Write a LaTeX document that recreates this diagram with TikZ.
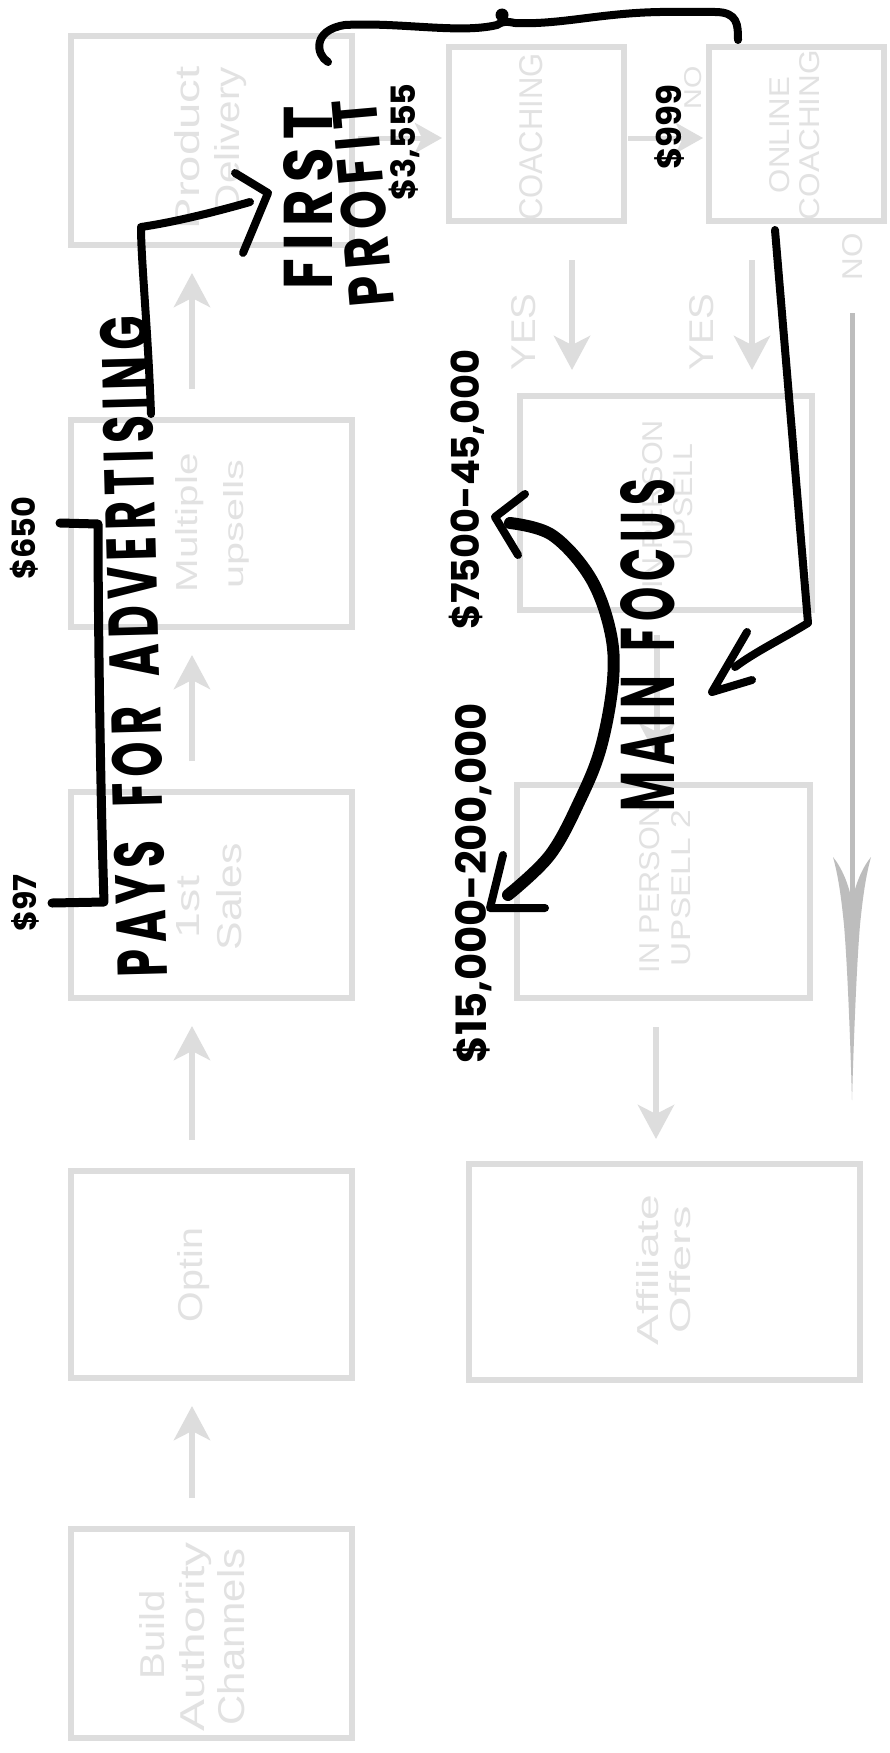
\documentclass[tikz,border=0pt]{standalone}
\usepackage{fontspec}
\setmainfont{Liberation Sans}
\newfontfamily\numf{Poppins}
\newfontfamily\handf{Poppins}[LetterSpace=14]
\usetikzlibrary{arrows.meta}
\definecolor{boxgray}{RGB}{221,221,221}
\definecolor{txtgray}{RGB}{226,226,226}
\definecolor{longgray}{RGB}{189,189,189}
\newcommand{\fitw}[2]{\resizebox{#1pt}{!}{#2}}
\newcommand{\fitwh}[3]{\resizebox{#1pt}{#2pt}{#3}}
\begin{document}
\begin{tikzpicture}[x=1pt,y=-1pt,
 box/.style={draw=boxgray, line width=6pt, inner sep=0pt},
 gtext/.style={text=txtgray, rotate=90, inner sep=0pt},
 btext/.style={text=black, rotate=90, inner sep=0pt, font=\numf\bfseries},
 htext/.style={text=black, rotate=90, inner sep=0pt, font=\handf\bfseries},
 garrow/.style={draw=boxgray, line width=6pt, -{Stealth[length=34pt,width=36pt,inset=9pt]}},
 harrow/.style={draw=boxgray, line width=5pt, -{Stealth[length=27pt,width=30pt,inset=7pt]}},
 ink/.style={draw=black, line width=8pt, line cap=round, line join=round},
]
\fill[white] (0,0) rectangle (889,1753);
\useasboundingbox (0,0) rectangle (889,1753);

% ---------- boxes ----------
\node[box, minimum width=281pt, minimum height=209pt] (prod)   at (211.5,140.5) {};
\node[box, minimum width=281pt, minimum height=207pt] (multi)  at (211.5,523.5) {};
\node[box, minimum width=281pt, minimum height=206pt] (sales)  at (211.5,895) {};
\node[box, minimum width=281pt, minimum height=207pt] (optin)  at (211.5,1274.5) {};
\node[box, minimum width=281pt, minimum height=209pt] (build)  at (211.5,1633.5) {};
\node[box, minimum width=175pt, minimum height=174pt] (coach)  at (536.5,134) {};
\node[box, minimum width=175pt, minimum height=174pt] (online) at (796.5,134) {};
\node[box, minimum width=292pt, minimum height=214pt] (ipa)    at (666,503) {};
\node[box, minimum width=293pt, minimum height=213pt] (ipb)    at (663.5,891.5) {};
\node[box, minimum width=391pt, minimum height=216pt] (aff)    at (664.5,1272) {};

% ---------- box texts ----------
\node[gtext] (tprod1) at (187,148) {\fitwh{163}{25}{Product}};
\node[gtext] (tprod2) at (231,140) {\fitwh{146}{25}{Delivery}};
\node[gtext] (tmul1) at (190,523) {\fitwh{139}{22}{Multiple}};
\node[gtext] (tmul2) at (236,524) {\fitwh{129}{20}{upsells}};
\node[gtext] (tsal1) at (188,907) {\fitwh{62}{23}{1st}};
\node[gtext] (tsal2) at (229,897) {\fitwh{107}{25}{Sales}};
\node[gtext] (topt) at (194,1275) {\fitwh{94}{25}{Optin}};
\node[gtext] (tbui1) at (152,1635) {\fitwh{89}{25}{Build}};
\node[gtext] (tbui2) at (196,1637) {\fitwh{189}{25}{Authority}};
\node[gtext] (tbui3) at (231,1637) {\fitwh{177}{27}{Channels}};
\node[gtext] (tcoa) at (531,137) {\fitwh{167}{23}{COACHING}};
\node[gtext] (tonl1) at (780,135) {\fitwh{116}{20}{ONLINE}};
\node[gtext] (tonl2) at (810,135) {\fitwh{170}{20}{COACHING}};
\node[gtext] (tipa1) at (653,504) {\fitwh{168}{20}{IN PERSON}};
\node[gtext] (tipa2) at (683,502) {\fitwh{116}{19}{UPSELL}};
\node[gtext] (tipb1) at (650,889) {\fitwh{168}{20}{IN PERSON}};
\node[gtext] (tipb2) at (681,888) {\fitwh{156}{19}{UPSELL 2}};
\node[gtext] (taff1) at (648,1270) {\fitwh{151}{22}{Affiliate}};
\node[gtext] (taff2) at (680,1270) {\fitwh{127}{21}{Offers}};

% ---------- gray connectors ----------
\coordinate (ax) at (192,0);
\draw[garrow, shorten <=28pt, shorten >=25pt] (build.north -| ax) -- (optin.south -| ax);
\draw[garrow, shorten <=28pt, shorten >=25pt] (optin.north -| ax) -- (sales.south -| ax);
\draw[garrow, shorten <=28pt, shorten >=25pt] (sales.north -| ax) -- (multi.south -| ax);
\draw[garrow, shorten <=28pt, shorten >=25pt] (multi.north -| ax) -- (prod.south -| ax);
\coordinate (ay) at (0,138);
\draw[harrow, shorten <=3pt, shorten >=4pt] (prod.east |- ay) -- (coach.west |- ay);
\draw[harrow, shorten <=1pt, shorten >=3pt] (coach.east |- ay) -- (online.west |- ay);
\coordinate (dx1) at (572,0);
\coordinate (dx2) at (752,0);
\coordinate (dx3) at (657,0);
\coordinate (dx4) at (656,0);
\draw[garrow, shorten <=36pt, shorten >=23pt] (coach.south -| dx1) -- (ipa.north -| dx1);
\draw[garrow, shorten <=36pt, shorten >=23pt] (online.south -| dx2) -- (ipa.north -| dx2);
\draw[garrow, shorten <=22pt, shorten >=25pt] (ipa.south -| dx3) -- (ipb.north -| dx3);
\draw[garrow, shorten <=26pt, shorten >=22pt] (ipb.south -| dx4) -- (aff.north -| dx4);

% labels
\node[gtext] (lno1) at (693,88) {\fitwh{43}{17}{NO}};
\node[gtext] (lno2) at (853,257) {\fitwh{47}{20}{NO}};
\node[gtext] (lyes1) at (524,332) {\fitwh{77}{24}{YES}};
\node[gtext] (lyes2) at (702,332) {\fitwh{77}{24}{YES}};

% long arrow on the right
\coordinate (la) at (852,313);
\coordinate (lb) at (852,1100);
\draw[longgray, line width=5pt] (la) -- (852,905);
\fill[longgray] (lb) .. controls (850,1030) and (847,960) .. (844,925)
  .. controls (841,895) and (838,875) .. (833,857)
  .. controls (842,868) and (849,885) .. (852,902)
  .. controls (855,885) and (862,868) .. (871,857)
  .. controls (866,875) and (863,895) .. (860,925)
  .. controls (857,960) and (854,1030) .. (lb) -- cycle;

% ---------- black numbers ----------
\node[btext] (n97) at (25,903) {\fitw{57}{\$97}};
\node[btext] (n650) at (24,538) {\fitw{83}{\$650}};
\node[btext] (n3555) at (404,142) {\fitw{117}{\$3,555}};
\node[btext] (n999) at (670,127) {\fitw{85}{\$999}};
\node[btext] (n7500) at (467,489) {\fitw{280}{\$7500-45,000}};
\node[btext] (n15000) at (473,883) {\fitw{360}{\$15,000-200,000}};

% ---------- handwritten words ----------
\node[htext, rotate=1.5] (pays) at (134,647) {\fitwh{661}{50}{PAYS~\hspace{0.4em}FOR~\hspace{0.3em}ADVERTISING}};
\node[htext] (first) at (308,198) {\fitwh{183}{49}{FIRST}};
\node[htext, rotate=5] (profit) at (363,203) {\fitwh{207}{45}{PROFIT}};
\node[htext] (focus) at (648,645) {\fitwh{333}{54}{MAIN~\hspace{0.2em}FOCUS}};

% ---------- black strokes ----------
\draw[ink, line width=9pt] (52,903) -- (104,902) .. controls (100,780) and (98,600) .. (98,524) -- (60,523);
\draw[ink] (151,414) .. controls (148,330) and (141,260) .. (141,227)
  .. controls (175,222) and (215,212) .. (250,202);
\draw[ink] (235,173) -- (268,193) -- (243,253);
\draw[ink] (328,62) .. controls (316,55) and (312,30) .. (345,25)
  .. controls (400,22) and (460,34) .. (497,25)
  .. controls (505,20) and (508,22) .. (515,23)
  .. controls (560,25) and (600,13) .. (660,12)
  -- (715,12) .. controls (738,12) and (738,25) .. (738,40);
\fill[black] (502,15) circle (6.5pt);
\draw[ink] (775,230) -- (808,623) .. controls (780,640) and (755,652) .. (735,667);
\draw[ink] (747,632) -- (712,692) -- (752,680);
\draw[ink, line width=12pt] plot[smooth, tension=0.6] coordinates {(510,523) (552,535) (590,577) (610,630) (613,680) (601,747) (580,800) (550,855) (508,895)};
\draw[ink] (525,494) -- (495,517) -- (518,555);
\draw[ink] (503,855) -- (490,908) -- (545,908);
\end{tikzpicture}
\end{document}
